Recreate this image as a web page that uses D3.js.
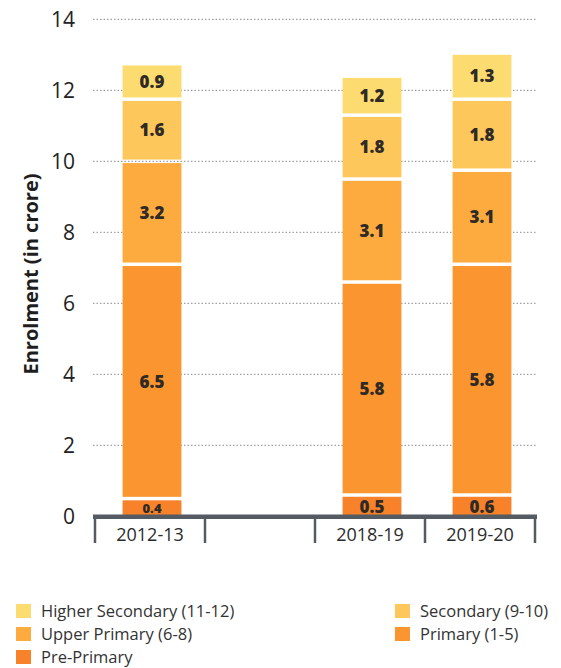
<!DOCTYPE html>
<html>
<head>
<meta charset="utf-8">
<script src="https://cdn.jsdelivr.net/npm/d3@7"></script>
<style>
  body { margin: 0; background: #fff; }
  text { font-family: "Open Sans", sans-serif; }
  .grid { stroke: #8a8a8a; stroke-width: 1; stroke-dasharray: 1.5 2; }
  .barLabel { font-weight: 800; fill: #2f2a25; text-anchor: middle; }
</style>
</head>
<body>
<svg id="svg"></svg>
<script>

// DATA

var categories = ["2012-13", "", "2018-19", "2019-20"];
var seriesNames = ["Pre-Primary", "Primary (1-5)", "Upper Primary (6-8)", "Secondary (9-10)", "Higher Secondary (11-12)"];

// bar heights as drawn (crore)
var prePrimary      = [0.45, null, 0.55, 0.55];
var primary         = [6.6,  null, 6.0,  6.5];
var upperPrimary    = [2.9,  null, 2.9,  2.65];
var secondary       = [1.75, null, 1.8,  2.0];
var higherSecondary = [1.0,  null, 1.1,  1.3];

// printed labels
var prePrimaryLbl      = ["0.4", null, "0.5", "0.6"];
var primaryLbl         = ["6.5", null, "5.8", "5.8"];
var upperPrimaryLbl    = ["3.2", null, "3.1", "3.1"];
var secondaryLbl       = ["1.6", null, "1.8", "1.8"];
var higherSecondaryLbl = ["0.9", null, "1.2", "1.3"];

var yTicks = [0, 2, 4, 6, 8, 10, 12, 14];

var colors = ["#f7822a", "#fb952f", "#fdab3f", "#fdc75c", "#fcdc70"];
var legendOrder = [4, 3, 2, 1, 0];

var values = [prePrimary, primary, upperPrimary, secondary, higherSecondary];
var labels = [prePrimaryLbl, primaryLbl, upperPrimaryLbl, secondaryLbl, higherSecondaryLbl];

// SETUP

svg = d3.select("#svg")
          .attr("width", 561)
          .attr("height", 668);

x = d3.scaleBand().domain(categories).range([95, 535]).padding(0);
y = d3.scaleLinear().domain([0, 14]).range([516.3, 19.3]);

var barW = x.bandwidth() * 0.535;
var gap = 3.5;

// gridlines
svg.append("g").selectAll("line")
  .data(yTicks.filter(d => d > 0)).enter()
  .append("line").attr("class", "grid")
    .attr("x1", 93).attr("x2", 537)
    .attr("y1", d => y(d)).attr("y2", d => y(d));

// y tick labels
svg.append("g").selectAll("text")
  .data(yTicks).enter()
  .append("text")
    .attr("x", 75)
    .attr("y", d => y(d))
    .attr("dy", "0.36em")
    .attr("text-anchor", "end")
    .style("font-size", "21px")
    .style("fill", "#222")
    .text(d => d);

// y title
svg.append("text")
    .attr("transform", "translate(38 274) rotate(-90)")
    .attr("text-anchor", "middle")
    .style("font-size", "20px")
    .style("font-weight", "700")
    .style("fill", "#1e1e1e")
    .text("Enrolment (in crore)");

// stack rows
var rows = [];
categories.forEach((c, i) => {
  if (values[0][i] == null) return;
  var cum = 0;
  values.forEach((s, k) => {
    rows.push({cat: c, k: k, y0: cum, y1: cum + s[i], label: labels[k][i]});
    cum += s[i];
  });
});

bars = svg.append("g").selectAll("g")
  .data(rows).enter()
  .append("g");

bars.append("rect")
    .attr("x", d => x(d.cat) + x.bandwidth() / 2 - barW / 2 + 2)
    .attr("width", barW)
    .attr("y", d => y(d.y1))
    .attr("height", d => y(d.y0) - y(d.y1) - (d.k > 0 ? gap : 0))
    .attr("fill", d => colors[d.k]);

bars.append("text").attr("class", "barLabel")
    .attr("x", d => x(d.cat) + x.bandwidth() / 2 + 2)
    .attr("y", d => (y(d.y0) - (d.k > 0 ? gap : 0) + y(d.y1)) / 2)
    .attr("dy", "0.36em")
    .style("font-size", d => d.label == "0.4" ? "13px" : "17px")
    .text(d => d.label);

// x axis: baseline and band separators
svg.append("line")
    .attr("x1", 93).attr("x2", 537)
    .attr("y1", y(0) + 0.5).attr("y2", y(0) + 0.5)
    .attr("stroke", "#555b62").attr("stroke-width", 4.5);

var edges = categories.map(c => x(c)).concat([x.range()[1]]);
svg.append("g").selectAll("line")
  .data(edges).enter()
  .append("line")
    .attr("x1", d => d).attr("x2", d => d)
    .attr("y1", y(0)).attr("y2", 543)
    .attr("stroke", "#555b62").attr("stroke-width", 2.5);

svg.append("g").selectAll("text")
  .data(categories).enter()
  .append("text")
    .attr("x", d => x(d) + x.bandwidth() / 2)
    .attr("y", 541)
    .attr("text-anchor", "middle")
    .style("font-size", "18px")
    .style("fill", "#2b2b2b")
    .text(d => d);

// legend
leg = svg.append("g").selectAll("g")
  .data(legendOrder).enter()
  .append("g")
    .attr("transform", (d, i) => "translate(" + (i % 2 ? 395 : 16) + " " + (604 + Math.floor(i / 2) * 23) + ")");

leg.append("rect")
    .attr("width", 15).attr("height", 14)
    .attr("fill", d => colors[d]);

leg.append("text")
    .attr("x", 25).attr("y", 7)
    .attr("dy", "0.34em")
    .style("font-size", "16.5px")
    .style("fill", "#333")
    .text(d => seriesNames[d]);

</script>
</body>
</html>
